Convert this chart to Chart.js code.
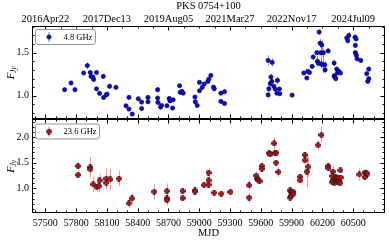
<!DOCTYPE html>
<html>
<head>
<meta charset="utf-8">
<script src="https://cdn.jsdelivr.net/npm/chart.js@4.4.1/dist/chart.umd.min.js"></script>
<style>
  html, body { margin: 0; padding: 0; background: #fff; }
  #wrap { position: relative; width: 389px; height: 241px; }
  canvas { position: absolute; left: 0; }
  #c-top { top: 0; }
  #c-bot { top: 119px; }
</style>
</head>
<body>
<div id="wrap">
  <canvas id="c-top" width="389" height="120"></canvas>
  <canvas id="c-bot" width="389" height="122"></canvas>
</div>
<script>
// 4.8 GHz light curve
const mjdLow = [57688, 57750, 57789, 57873, 57909, 57938, 57945, 57964, 57970, 57999, 57999, 58029, 58065, 58068, 58094, 58101, 58126, 58188,
  58286, 58315, 58315, 58347, 58406, 58438, 58438, 58500, 58500, 58594, 58594, 58597, 58623, 58632, 58685, 58707, 58714, 58740, 58746,
  58808, 58814, 58831, 58844, 58958, 58961, 58980, 59002, 59002, 59029, 59048, 59084, 59094, 59113, 59139, 59146, 59211, 59211, 59246, 59246,
  59671, 59710, 59698, 59691, 59707, 59678, 59671, 59727, 59740, 59762, 59756, 59781, 59785, 59905,
  60019, 60048, 60058, 60074, 60100, 60110, 60146, 60152, 60158, 60168, 60178, 60184, 60194, 60187, 60204, 60210, 60223, 60226, 60256,
  60314, 60314, 60321, 60330, 60340, 60346, 60360, 60376,
  60437, 60447, 60457, 60518, 60528, 60521, 60521, 60531, 60538, 60574, 60632, 60652, 60642, 60652];
const fluxLow = [1.07, 1.148, 1.07, 1.264, 1.35, 1.27, 1.225, 1.217, 1.19, 1.27, 1.08, 1.027, 1.225, 0.98, 1.01, 1.02, 1.11, 1.097,
  0.884, 0.98, 0.845, 0.787, 0.965, 0.927, 0.852, 0.98, 0.93, 1.07, 0.973, 0.922, 0.868, 0.887, 0.884, 0.969, 0.94, 0.857, 0.953,
  1.116, 1.04, 1.05, 1.03, 0.985, 0.93, 0.887, 1.155, 1.058, 1.097, 1.136, 1.166, 1.194, 1.236, 1.10, 1.08, 1.03, 0.934, 1.047, 0.91,
  1.41, 1.387, 1.217, 1.14, 1.166, 1.08, 1.01, 1.11, 1.078, 1.178, 1.03, 1.078, 1.023, 1.008,
  1.264, 1.206, 1.283, 1.27, 1.34, 1.45, 1.50, 1.40, 1.38, 1.74, 1.61, 1.50, 1.59, 1.37, 1.36, 1.50, 1.36, 1.30, 1.52,
  1.38, 1.23, 1.217, 1.198, 1.31, 1.264, 1.283, 1.264,
  1.67, 1.64, 1.70, 1.68, 1.66, 1.585, 1.50, 1.47, 1.43, 1.41, 1.256, 1.31, 1.166, 1.198];
const errLow = [0.02, 0.02, 0.02, 0.02, 0.04, 0.02, 0.03, 0.03, 0.03, 0.02, 0.02, 0.02, 0.02, 0.02, 0.02, 0.02, 0.03, 0.02,
  0.02, 0.02, 0.02, 0.02, 0.02, 0.02, 0.02, 0.02, 0.02, 0.03, 0.03, 0.02, 0.02, 0.02, 0.02, 0.02, 0.02, 0.02, 0.02,
  0.03, 0.02, 0.02, 0.02, 0.02, 0.02, 0.02, 0.02, 0.02, 0.02, 0.02, 0.02, 0.02, 0.02, 0.02, 0.02, 0.02, 0.02, 0.02, 0.02,
  0.06, 0.05, 0.04, 0.03, 0.03, 0.03, 0.04, 0.02, 0.02, 0.04, 0.02, 0.02, 0.02, 0.02,
  0.02, 0.02, 0.02, 0.02, 0.02, 0.04, 0.03, 0.06, 0.04, 0.03, 0.05, 0.10, 0.06, 0.05, 0.10, 0.05, 0.04, 0.03, 0.03,
  0.04, 0.03, 0.03, 0.02, 0.02, 0.02, 0.02, 0.02,
  0.04, 0.03, 0.04, 0.03, 0.03, 0.03, 0.03, 0.03, 0.03, 0.03, 0.02, 0.03, 0.02, 0.02];

// 23.6 GHz light curve
const mjdHigh = [57818, 57818, 57938, 57938, 57967, 57999, 58023, 58029, 58094, 58094, 58133, 58217, 58315, 58344,
  58561, 58685, 58685, 58685, 58837, 58837, 58958, 58958, 59045, 59090, 59090, 59090, 59146, 59214, 59304,
  59486, 59486, 59554, 59567, 59577, 59587, 59610, 59610, 59681, 59691, 59730, 59737, 59752, 59749, 59772,
  59886, 59892, 59902, 59912, 59886, 59895, 59918, 59983, 59983, 60029, 60029, 60048, 60061, 60158, 60190,
  60256, 60259, 60301, 60298, 60301, 60298, 60317, 60331, 60340, 60346, 60356, 60366, 60372, 60376, 60379,
  60560, 60613, 60613, 60626, 60639];
const fluxHigh = [1.434, 1.26, 1.41, 1.37, 1.078, 1.025, 1.045, 1.156, 1.19, 1.11, 1.175, 1.19, 0.71, 0.805,
  0.935, 0.947, 0.805, 0.77, 0.947, 0.81, 0.96, 0.935, 1.064, 1.305, 1.156, 1.07, 0.915, 0.897, 0.93,
  1.058, 0.82, 1.25, 1.19, 1.16, 1.14, 1.434, 1.38, 1.69, 1.66, 1.875, 1.69, 1.69, 1.50, 1.32,
  0.96, 0.93, 0.885, 0.935, 0.82, 0.85, 0.897, 1.228, 1.156, 1.65, 1.545, 1.325, 1.42, 1.84, 2.04,
  1.434, 1.39, 1.325, 1.24, 1.16, 1.12, 1.11, 1.22, 1.175, 1.12, 1.21, 1.14, 1.097, 1.35, 1.21,
  1.27, 1.305, 1.22, 1.305, 1.286];
const errHigh = [0.06, 0.05, 0.2, 0.1, 0.15, 0.1, 0.12, 0.12, 0.2, 0.1, 0.2, 0.15, 0.1, 0.1,
  0.15, 0.15, 0.1, 0.1, 0.06, 0.05, 0.08, 0.05, 0.06, 0.1, 0.08, 0.06, 0.06, 0.05, 0.06,
  0.1, 0.1, 0.08, 0.06, 0.06, 0.06, 0.06, 0.06, 0.06, 0.06, 0.12, 0.06, 0.05, 0.05, 0.1,
  0.04, 0.04, 0.04, 0.04, 0.04, 0.04, 0.04, 0.06, 0.06, 0.06, 0.06, 0.3, 0.2, 0.1, 0.15,
  0.06, 0.05, 0.12, 0.06, 0.06, 0.06, 0.06, 0.05, 0.05, 0.05, 0.05, 0.05, 0.05, 0.05, 0.05,
  0.12, 0.06, 0.06, 0.06, 0.06];

// axes
const mjdTicks = [57500, 57800, 58100, 58400, 58700, 59000, 59300, 59600, 59900, 60200, 60500];
const dateTicks = [57500, 58100, 58700, 59300, 59900, 60500];
const dateLabels = ['2016Apr22', '2017Dec13', '2019Aug05', '2021Mar27', '2022Nov17', '2024Jul09'];
const fluxTicksTop = [1.0, 1.5];
const fluxTicksBot = [1.0, 1.5, 2.0];
const mjdMin = 57370, mjdMax = 60810;

const SERIF = '"Liberation Serif", "DejaVu Serif", serif';

const plusMarker = (size, fill, edge) => {
    const c = document.createElement('canvas');
    c.width = size; c.height = size;
    const g = c.getContext('2d');
    const a = 0.5, b = size * 0.32, e = size - b, z = size - 0.5;
    g.beginPath();
    g.moveTo(b, a); g.lineTo(e, a); g.lineTo(e, b); g.lineTo(z, b); g.lineTo(z, e); g.lineTo(e, e);
    g.lineTo(e, z); g.lineTo(b, z); g.lineTo(b, e); g.lineTo(a, e); g.lineTo(a, b); g.lineTo(b, b);
    g.closePath();
    g.fillStyle = fill; g.fill();
    g.strokeStyle = edge; g.lineWidth = 0.8; g.stroke();
    return c;
};
const redPlus = plusMarker(6, '#e8000b', '#222');

const range = (from, to, step) => {
    const out = [];
    for (let v = from; v <= to + 1e-9; v += step) out.push(+v.toFixed(4));
    return out;
};

// error bars drawn under the markers
const errorBars = {
    id: 'errorBars',
    beforeDatasetsDraw(chart) {
        const { ctx, chartArea: a } = chart;
        const xs = chart.scales.x, ys = chart.scales.y;
        ctx.save();
        ctx.beginPath();
        ctx.rect(a.left, a.top, a.right - a.left, a.bottom - a.top);
        ctx.clip();
        chart.data.datasets.forEach((ds) => {
            if (!ds.errors) return;
            ctx.strokeStyle = ds.errorColor;
            ctx.lineWidth = 1;
            ds.data.forEach((p, i) => {
                const x = Math.round(xs.getPixelForValue(p.x)) + 0.5;
                ctx.beginPath();
                ctx.moveTo(x, ys.getPixelForValue(p.y - ds.errors[i]));
                ctx.lineTo(x, ys.getPixelForValue(p.y + ds.errors[i]));
                ctx.stroke();
            });
        });
        ctx.restore();
    }
};

// box, inward ticks, y label, legend, title
const decor = {
    id: 'decor',
    afterDraw(chart, args, o) {
        const { ctx, chartArea: a } = chart;
        const xs = chart.scales.x, ys = chart.scales.y;
        ctx.save();
        ctx.strokeStyle = '#000';
        ctx.lineWidth = 1;
        const L = Math.round(a.left) + 0.5, R = Math.round(a.right) - 0.5;
        const T = Math.round(a.top) + 0.5, B = Math.round(a.bottom) - 0.5;
        ctx.strokeRect(L, T, R - L, B - T);

        const tickX = (vals, y, len) => vals.forEach((v) => {
            if (v <= xs.min || v >= xs.max) return;
            const x = Math.round(xs.getPixelForValue(v)) + 0.5;
            ctx.beginPath(); ctx.moveTo(x, y); ctx.lineTo(x, y + len); ctx.stroke();
        });
        const tickY = (vals, len) => vals.forEach((v) => {
            if (v <= ys.min || v >= ys.max) return;
            const y = Math.round(ys.getPixelForValue(v)) + 0.5;
            ctx.beginPath(); ctx.moveTo(L, y); ctx.lineTo(L + len, y); ctx.stroke();
            ctx.beginPath(); ctx.moveTo(R, y); ctx.lineTo(R - len, y); ctx.stroke();
        });
        tickX(o.topMajor, T, 4); tickX(o.topMinor, T, 2);
        tickX(o.botMajor, B, -4); tickX(o.botMinor, B, -2);
        tickY(o.yMajor, 4); tickY(o.yMinor, 2);

        // y label F_Jy
        ctx.save();
        ctx.translate(11, (a.top + a.bottom) / 2);
        ctx.rotate(-Math.PI / 2);
        ctx.fillStyle = '#000';
        ctx.textBaseline = 'middle';
        ctx.font = 'italic 11px ' + SERIF;
        const wF = ctx.measureText('F').width;
        ctx.font = 'italic 7.5px ' + SERIF;
        const wJ = ctx.measureText('Jy').width;
        const x0 = -(wF + wJ) / 2;
        ctx.font = 'italic 11px ' + SERIF;
        ctx.textAlign = 'left';
        ctx.fillText('F', x0, 0);
        ctx.font = 'italic 7.5px ' + SERIF;
        ctx.fillText('Jy', x0 + wF - 0.5, 3);
        ctx.restore();

        // legend
        const lg = o.legend;
        const bx = a.left + 3.5, by = a.top + lg.dy, bw = lg.w, bh = 15;
        ctx.strokeStyle = '#999';
        ctx.lineWidth = 1;
        ctx.beginPath();
        ctx.roundRect(bx, by, bw, bh, 2.5);
        ctx.fillStyle = 'rgba(255,255,255,0.8)';
        ctx.fill();
        ctx.stroke();
        const mx = bx + 13.5, my = by + bh / 2;
        ctx.strokeStyle = lg.errorColor;
        ctx.beginPath(); ctx.moveTo(mx, my - 5); ctx.lineTo(mx, my + 5); ctx.stroke();
        if (lg.image) {
            ctx.drawImage(lg.image, mx - lg.image.width / 2, my - lg.image.height / 2);
        } else {
            ctx.beginPath(); ctx.arc(mx, my, 2.1, 0, Math.PI * 2);
            ctx.fillStyle = lg.color; ctx.fill();
            ctx.strokeStyle = '#00006a'; ctx.lineWidth = 0.7; ctx.stroke();
        }
        ctx.fillStyle = '#000';
        ctx.font = '8.5px ' + SERIF;
        ctx.textAlign = 'left';
        ctx.textBaseline = 'middle';
        ctx.fillText(lg.text, bx + 28, my + 0.5);

        if (o.title) {
            ctx.font = '10.5px ' + SERIF;
            ctx.textAlign = 'center';
            ctx.textBaseline = 'middle';
            ctx.fillText(o.title, (a.left + a.right) / 2, 6);
        }
        ctx.restore();
    }
};

// fixed axis sizes, no label overhang padding
const fixedWidth = (w) => (scale) => { scale.width = w; scale.paddingTop = 0; scale.paddingBottom = 0; };
const fixedHeight = (h) => (scale) => { scale.height = h; scale.paddingLeft = 0; scale.paddingRight = 0; };
const setTicks = (vals) => (scale) => { scale.ticks = vals.map((v) => ({ value: v })); };

const tickFont = { family: SERIF, size: 10 };

// top panel: 4.8 GHz
new Chart(document.getElementById('c-top'), {
    type: 'scatter',
    data: {
        datasets: [{
            label: '4.8 GHz',
            data: mjdLow.map((m, i) => ({ x: m, y: fluxLow[i] })),
            errors: errLow,
            errorColor: 'rgba(70, 70, 255, 0.6)',
            backgroundColor: '#0a0ad2',
            borderColor: '#00006a',
            borderWidth: 0.7,
            pointRadius: 2.1,
        }]
    },
    options: {
        responsive: false,
        animation: false,
        layout: { autoPadding: false, padding: { left: 0, right: 4, top: 0, bottom: 1 } },
        plugins: {
            legend: { display: false },
            tooltip: { enabled: false },
            decor: {
                title: 'PKS 0754+100',
                topMajor: dateTicks, topMinor: range(57350, 60800, 150),
                botMajor: mjdTicks, botMinor: range(57400, 60800, 100),
                yMajor: fluxTicksTop, yMinor: range(0.8, 1.8, 0.1),
                legend: { text: '4.8 GHz', w: 60, dy: 3.5, color: '#0a0ad2', errorColor: 'rgba(70, 70, 255, 0.8)' },
            },
        },
        scales: {
            x: { type: 'linear', min: mjdMin, max: mjdMax, display: false },
            x2: {
                type: 'linear', position: 'top', min: mjdMin, max: mjdMax,
                afterBuildTicks: setTicks(dateTicks),
                afterFit: fixedHeight(26),
                grid: { display: false, drawTicks: false },
                border: { display: false },
                ticks: {
                    font: { family: SERIF, size: 10.5 }, color: '#000', padding: 0, maxRotation: 0,
                    callback: (v) => dateLabels[dateTicks.indexOf(v)] || '',
                },
            },
            y: {
                min: 0.73, max: 1.81,
                afterBuildTicks: setTicks(fluxTicksTop),
                afterFit: fixedWidth(32),
                grid: { display: false, drawTicks: false },
                border: { display: false },
                ticks: { font: tickFont, color: '#000', padding: 3, callback: (v) => v.toFixed(1) },
            },
        },
    },
    plugins: [errorBars, decor],
});

// bottom panel: 23.6 GHz
new Chart(document.getElementById('c-bot'), {
    type: 'scatter',
    data: {
        datasets: [{
            label: '23.6 GHz',
            data: mjdHigh.map((m, i) => ({ x: m, y: fluxHigh[i] })),
            errors: errHigh,
            errorColor: 'rgba(255, 60, 60, 0.55)',
            pointStyle: redPlus,
        }]
    },
    options: {
        responsive: false,
        animation: false,
        layout: { autoPadding: false, padding: { left: 0, right: 4, top: 0, bottom: 0 } },
        plugins: {
            legend: { display: false },
            tooltip: { enabled: false },
            decor: {
                topMajor: mjdTicks, topMinor: range(57400, 60800, 100),
                botMajor: mjdTicks, botMinor: range(57400, 60800, 100),
                yMajor: fluxTicksBot, yMinor: range(0.6, 2.3, 0.1),
                legend: { text: '23.6 GHz', w: 64, dy: 5, image: redPlus, errorColor: 'rgba(255, 60, 60, 0.8)' },
            },
        },
        scales: {
            x: {
                type: 'linear', min: mjdMin, max: mjdMax,
                afterBuildTicks: setTicks(mjdTicks),
                afterFit: fixedHeight(28),
                grid: { display: false, drawTicks: false },
                border: { display: false },
                ticks: { font: tickFont, color: '#000', padding: 4, maxRotation: 0, callback: (v) => String(v) },
                title: { display: true, text: 'MJD', font: { family: SERIF, size: 10.5 }, color: '#000', padding: { top: 0, bottom: 1 } },
            },
            y: {
                min: 0.52, max: 2.35,
                afterBuildTicks: setTicks(fluxTicksBot),
                afterFit: fixedWidth(32),
                grid: { display: false, drawTicks: false },
                border: { display: false },
                ticks: { font: tickFont, color: '#000', padding: 3, callback: (v) => v.toFixed(1) },
            },
        },
    },
    plugins: [errorBars, decor],
});
</script>
</body>
</html>
